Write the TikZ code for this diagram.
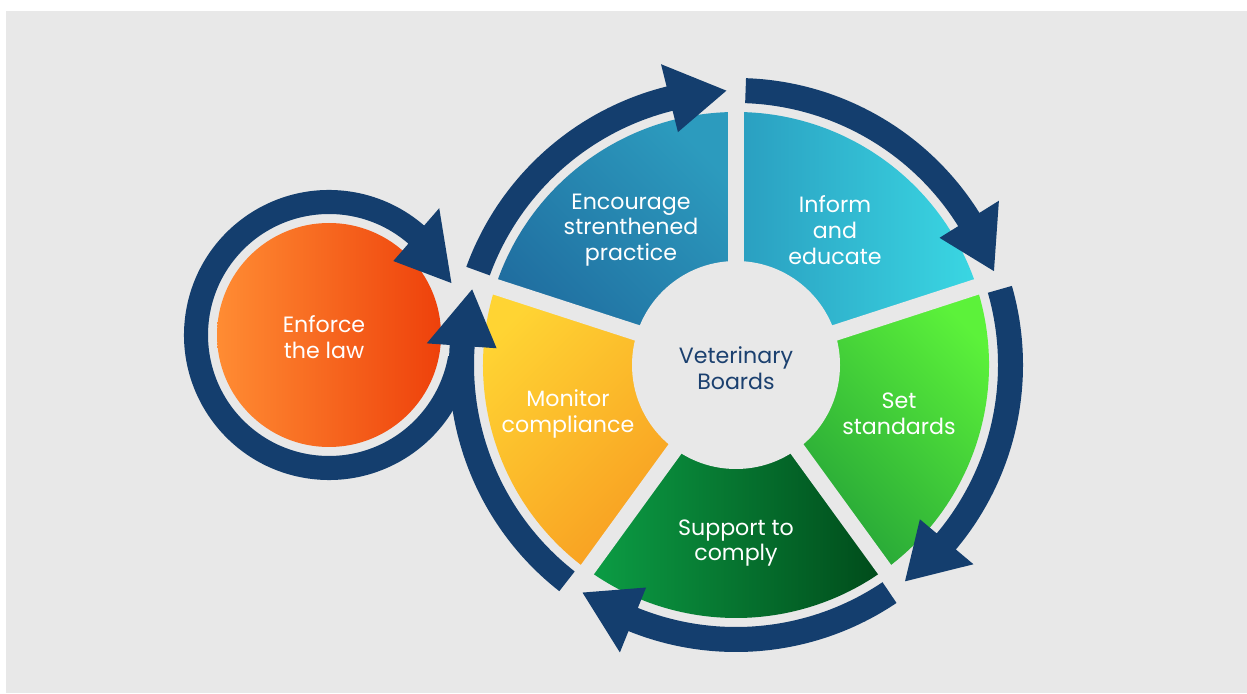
\documentclass[tikz,border=0pt]{standalone}
\usepackage{fontspec}
\setmainfont{Poppins}
\definecolor{bggray}{HTML}{E8E8E8}
\definecolor{navy}{HTML}{143E6E}
\definecolor{vettext}{HTML}{1B406F}
\definecolor{encA}{HTML}{1F6B9E}
\definecolor{encB}{HTML}{2C9BBE}
\definecolor{infA}{HTML}{2A9EC0}
\definecolor{infB}{HTML}{3AD7E3}
\definecolor{setA}{HTML}{1E9A37}
\definecolor{setB}{HTML}{5CF23A}
\definecolor{supA}{HTML}{0C9E45}
\definecolor{supB}{HTML}{004A1A}
\definecolor{monA}{HTML}{FFD433}
\definecolor{monB}{HTML}{F7971F}
\definecolor{enfA}{HTML}{FF8C33}
\definecolor{enfB}{HTML}{EE410B}
\newcommand{\wheelarrow}[2]{%
  \fill[navy] (#1:287) arc[start angle=#1, end angle=#2+12, radius=287]
    -- (#2+12:310) -- (#2:274.5) -- (#2+12:240) -- (#2+12:262)
    arc[start angle=#2+12, end angle=#1, radius=262] -- cycle;}
\tikzset{
  lbl/.style={align=center, text=white, inner sep=0pt,
    font=\fontsize{12.6}{14.7}\selectfont},
  vet/.style={align=center, text=vettext, inner sep=0pt,
    font=\fontsize{12.6}{14.7}\selectfont},
  gap/.style={draw=bggray, line width=0.32cm}
}
\begin{document}
\begin{tikzpicture}[x=0.02cm, y=0.02cm]
\useasboundingbox (0,0) rectangle (1247,693);
\fill[white] (0,0) rectangle (1247,693);
\fill[bggray] (6,0) rectangle (1247,682);

% wheel
\begin{scope}[shift={(736,328)}]
  \shade[left color=encA, right color=encB, shading angle=135]
    (0,0) -- (90:253) arc[start angle=90, end angle=162, radius=253] -- cycle;
  \shade[left color=infA, right color=infB]
    (0,0) -- (18:253) arc[start angle=18, end angle=90, radius=253] -- cycle;
  \shade[left color=setA, right color=setB, shading angle=135]
    (0,0) -- (-54:253) arc[start angle=-54, end angle=18, radius=253] -- cycle;
  \shade[left color=supA, right color=supB]
    (0,0) -- (-126:253) arc[start angle=-126, end angle=-54, radius=253] -- cycle;
  \shade[left color=monA, right color=monB, shading angle=45]
    (0,0) -- (162:253) arc[start angle=162, end angle=234, radius=253] -- cycle;
  \foreach \a in {90,18,-54,-126,162} \draw[gap] (0,0) -- (\a:258);
  \fill[bggray] (0,0) circle[radius=104];
\end{scope}

% enforce circle and ring
\begin{scope}[shift={(329,358)}]
  \shade[left color=enfA, right color=enfB] (0,0) circle[radius=112];
  \fill[navy] (350:145) arc[start angle=350, end angle=49, radius=145]
    -- (49:168) -- (23:133) -- (49:98) -- (49:121)
    arc[start angle=49, end angle=350, radius=121] -- cycle;
\end{scope}

% wheel arrows
\begin{scope}[shift={(736,328)}]
  \wheelarrow{160}{92}
  \wheelarrow{88}{20}
  \wheelarrow{16}{-52}
  \wheelarrow{-56}{-124}
  \wheelarrow{232}{164}
\end{scope}

% labels
\node[lbl] (enc) at (631,463) {Encourage\\strenthened\\practice};
\node[lbl] (inf) at (835,463) {Inform\\and\\educate};
\node[lbl] (set) at (899,279) {Set\\standards};
\node[lbl] (sup) at (736,150) {Support to\\comply};
\node[lbl] (mon) at (568,279) {Monitor\\compliance};
\node[vet] (vb) at (736,325) {Veterinary\\Boards};
\node[lbl] (enf) at (324,356) {Enforce\\the law};
\end{tikzpicture}
\end{document}
